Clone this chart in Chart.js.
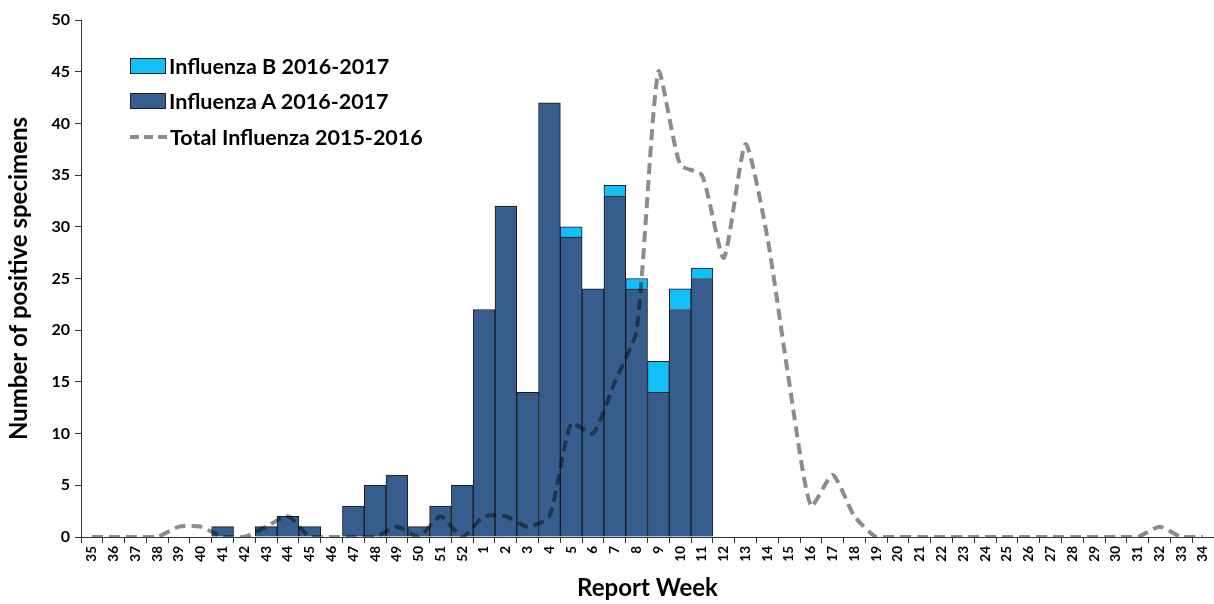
<!DOCTYPE html>
<html>
<head>
<meta charset="utf-8">
<script src="https://cdn.jsdelivr.net/npm/chart.js@4.4.1/dist/chart.umd.min.js"></script>
<style>
  body { margin: 0; background: #fff; overflow: hidden; }
  #wrap { position: relative; width: 1214px; height: 604px; }
  #legend { position: absolute; left: 130px; top: 48px; font: bold 21.5px Lato, "Open Sans", sans-serif; color: #000; }
  .item { display: flex; align-items: center; height: 35.5px; white-space: nowrap; }
  .box { width: 34px; height: 14px; border: 1px solid #222; margin-right: 3px; }
  .dash { width: 38px; height: 6px; margin-right: 2px; }
</style>
</head>
<body>
<div id="wrap">
  <canvas id="fluChart" width="1214" height="604"></canvas>
  <div id="legend">
    <div class="item"><div class="box" style="background:#11BFFA"></div>Influenza B 2016-2017</div>
    <div class="item"><div class="box" style="background:#355E8E"></div>Influenza A 2016-2017</div>
    <div class="item"><svg class="dash" viewBox="0 0 38 6"><line x1="0" y1="3" x2="38" y2="3" stroke="#8c8c8c" stroke-width="4" stroke-dasharray="9,5"/></svg>Total Influenza 2015-2016</div>
  </div>
</div>
<script>
// Report weeks 35..52 then 1..34
const weeks = ["35","36","37","38","39","40","41","42","43","44","45","46","47","48","49","50","51","52",
  "1","2","3","4","5","6","7","8","9","10","11","12","13","14","15","16","17","18","19","20",
  "21","22","23","24","25","26","27","28","29","30","31","32","33","34"];

// Influenza A 2016-2017 (bars, bottom of stack)
const fluA = [0,0,0,0,0,0,1,0,1,2,1,0,3,5,6,1,3,5,
  22,32,14,42,29,24,33,24,14,22,25,
  null,null,null,null,null,null,null,null,null,null,null,null,null,null,null,null,null,null,null,null,null,null,null];

// Influenza B 2016-2017 (stacked on top)
const fluB = [0,0,0,0,0,0,0,0,0,0,0,0,0,0,0,0,0,0,
  0,0,0,0,1,0,1,1,3,2,1,
  null,null,null,null,null,null,null,null,null,null,null,null,null,null,null,null,null,null,null,null,null,null,null];

// Total influenza 2015-2016 (dashed line)
const total1516 = [0,0,0,0,1,1,0,0,1,2,0,0,0,0,1,0,2,0,
  2,2,1,2,11,10,15,20,45,36,35,27,38,29,15,3,6,2,0,0,
  0,0,0,0,0,0,0,0,0,0,0,1,0,0];

const yTicks = { min: 0, max: 50, step: 5 };

// line is drawn in multiply mode so it darkens over the bars like the original
const multiplyLine = {
  id: "multiplyLine",
  beforeDatasetDraw(chart, args) {
    if (chart.data.datasets[args.index].type === "line") {
      chart.ctx.save();
      chart.ctx.globalCompositeOperation = "multiply";
    }
  },
  afterDatasetDraw(chart, args) {
    if (chart.data.datasets[args.index].type === "line") chart.ctx.restore();
  }
};

const font = "Lato, 'Open Sans', sans-serif";

new Chart(document.getElementById("fluChart"), {
  type: "bar",
  data: {
    labels: weeks,
    datasets: [
      {
        type: "line",
        label: "Total Influenza 2015-2016",
        data: total1516,
        borderColor: "#8c8c8c",
        borderWidth: 4,
        borderDash: [11, 6],
        pointRadius: 0,
        tension: 0.2,
        fill: false,
        stack: "total",
        order: 0
      },
      {
        label: "Influenza A 2016-2017",
        data: fluA,
        backgroundColor: "#355E8E",
        borderColor: "#1a1a1a",
        borderWidth: 1,
        borderSkipped: "bottom",
        barPercentage: 1,
        categoryPercentage: 1,
        stack: "flu",
        order: 1
      },
      {
        label: "Influenza B 2016-2017",
        data: fluB,
        backgroundColor: "#11BFFA",
        borderColor: "#1a1a1a",
        borderWidth: 1,
        borderSkipped: "bottom",
        barPercentage: 1,
        categoryPercentage: 1,
        stack: "flu",
        order: 1
      }
    ]
  },
  options: {
    responsive: false,
    animation: false,
    layout: { padding: { top: 20, right: -2, left: 0, bottom: 0 } },
    plugins: { legend: { display: false }, tooltip: { enabled: false } },
    scales: {
      x: {
        stacked: true,
        grid: { display: true, drawOnChartArea: false, offset: true, tickLength: 6, color: "#333" },
        border: { color: "#333", width: 1 },
        ticks: { autoSkip: false, maxRotation: 90, minRotation: 90, color: "#000", font: { family: font, weight: "bold", size: 13.5 } },
        title: { display: true, text: "Report Week", color: "#000", font: { family: font, weight: "bold", size: 24 }, padding: { top: 0, bottom: 1 } },
        afterFit(scale) {
          scale.height = 67;
          scale.paddingLeft = 0;
          scale.paddingRight = 0;
        }
      },
      y: {
        stacked: true,
        min: yTicks.min,
        max: yTicks.max,
        grid: { display: true, drawOnChartArea: false, tickLength: 6, color: "#333" },
        border: { color: "#333", width: 1 },
        ticks: { stepSize: yTicks.step, color: "#000", font: { family: font, weight: "bold", size: 16 }, padding: 5 },
        title: { display: true, text: "Number of positive specimens", color: "#000", font: { family: font, weight: "bold", size: 24 }, padding: { top: 5, bottom: 0 } },
        afterFit(scale) { scale.width = 81; }
      }
    }
  },
  plugins: [multiplyLine]
});
</script>
</body>
</html>
